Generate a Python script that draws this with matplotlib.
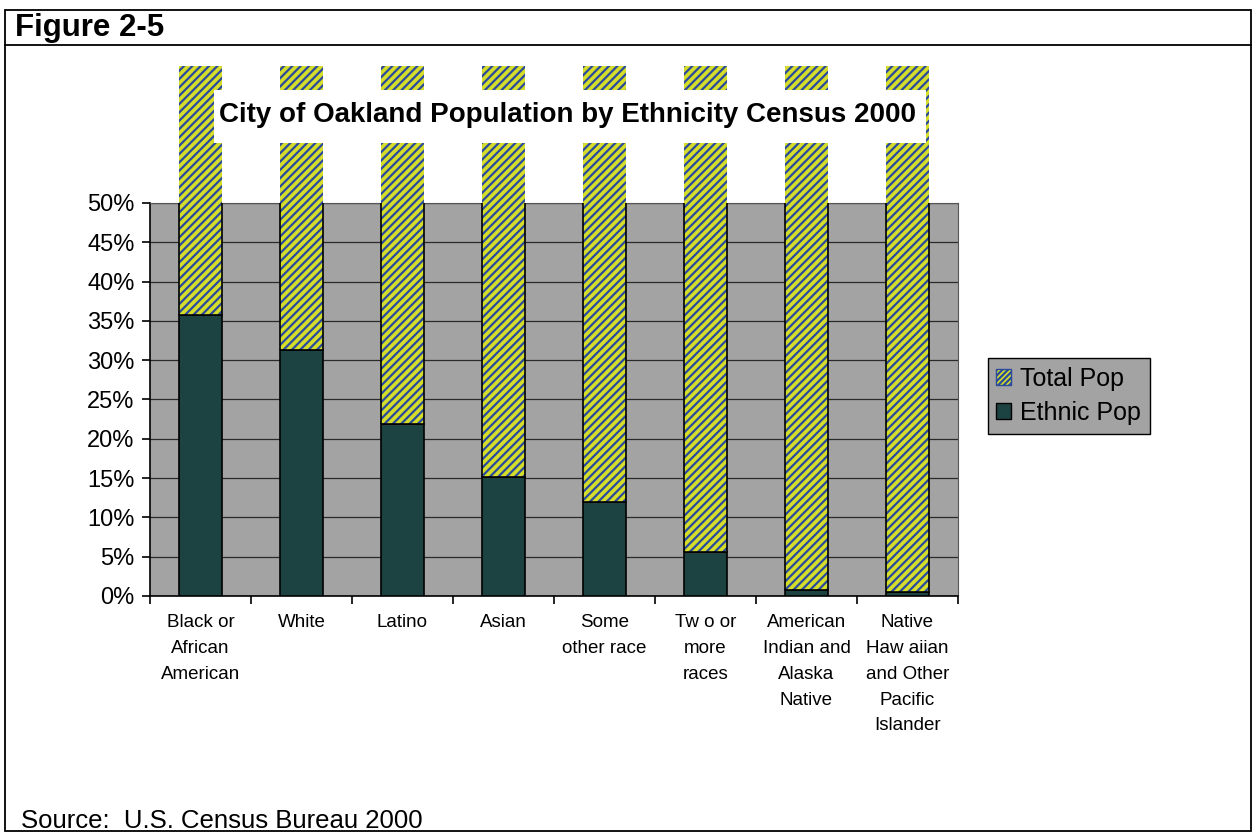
import numpy as np
import matplotlib.pyplot as plt
from matplotlib.patches import Rectangle, Patch
from matplotlib.ticker import FuncFormatter, MultipleLocator

plt.rcParams['font.family'] = ['Liberation Sans', 'DejaVu Sans']
plt.rcParams['hatch.linewidth'] = 1.6

categories = ['Black or\nAfrican\nAmerican', 'White', 'Latino', 'Asian',
              'Some\nother race', 'Tw o or\nmore\nraces',
              'American\nIndian and\nAlaska\nNative',
              'Native\nHaw aiian\nand Other\nPacific\nIslander']
ethnic_pop = [35.7, 31.3, 21.9, 15.2, 11.9, 5.6, 0.7, 0.5]
total_pop = [100.0] * 8

x = np.arange(len(categories))
rest = [t - e for t, e in zip(total_pop, ethnic_pop)]

fig = plt.figure(figsize=(12.55, 8.34), dpi=100)
ax = fig.add_axes([0.1195, 0.2854, 0.6438, 0.4712])
ax.set_facecolor('#a3a3a3')

# frame, header line and captions
fig.patches.append(Rectangle((0.004, 0.003), 0.993, 0.985, transform=fig.transFigure,
                             fill=False, edgecolor='black', linewidth=1.3))
fig.lines.append(plt.Line2D([0.004, 0.997], [0.946, 0.946], transform=fig.transFigure,
                            color='black', linewidth=1.3))
fig.text(0.012, 0.967, 'Figure 2-5', fontsize=22.5, fontweight='bold', va='center')
fig.text(0.017, 0.016, 'Source:  U.S. Census Bureau 2000', fontsize=18.5, va='center')

w = 0.42
yellow = '#d4dd2a'
stripe = '#2a4a9e'
ax.bar(x, ethnic_pop, width=w, color='#1c4242', edgecolor='black', linewidth=1.2, zorder=3)
hb = ax.bar(x, rest, width=w, bottom=ethnic_pop, color=yellow, edgecolor=stripe,
            hatch='////', linewidth=0, zorder=3)
# total bars run past the plot area up to the top of the chart area
clip = Rectangle((0, 0), 1, 0.921, transform=fig.transFigure, facecolor='none', edgecolor='none')
fig.patches.append(clip)
for b in hb:
    b.set_clip_path(clip)
ax.bar(x, rest, width=w, bottom=ethnic_pop, fill=False, edgecolor='black', linewidth=1.2, zorder=4)

ax.set_ylim(0, 50)
ax.set_xlim(-0.5, len(categories) - 0.5)
ax.yaxis.set_major_locator(MultipleLocator(5))
ax.yaxis.set_major_formatter(FuncFormatter(lambda v, p: f'{v:.0f}%'))
ax.grid(axis='y', color='#2a2a2a', linewidth=0.9, zorder=1)
ax.set_axisbelow(True)
ax.tick_params(axis='y', labelsize=17, length=6, direction='out', width=1.2, pad=5)

ax.set_xticks(x)
ax.set_xticklabels(categories, fontsize=13.5, linespacing=1.68, va='top')
ax.set_xticks(np.arange(-0.5, len(categories)), minor=True)
ax.tick_params(axis='x', which='major', length=0, pad=13)
ax.tick_params(axis='x', which='minor', length=6, width=1.2, direction='out')

for s in ['top', 'right']:
    ax.spines[s].set_color('#555555')
    ax.spines[s].set_linewidth(0.8)
for s in ['left', 'bottom']:
    ax.spines[s].set_linewidth(1.2)

# title on a white band over the bars
fig.patches.append(Rectangle((0.1705, 0.829), 0.567, 0.063, transform=fig.transFigure,
                             facecolor='white', edgecolor='none', zorder=10))
fig.text(0.4525, 0.862, 'City of Oakland Population by Ethnicity Census 2000',
         fontsize=20, fontweight='bold', ha='center', va='center', zorder=11)

handles = [Patch(facecolor=yellow, edgecolor=stripe, hatch='//////', label='Total Pop'),
           Patch(facecolor='#1c4242', edgecolor='black', label='Ethnic Pop')]
leg = fig.legend(handles=handles, loc='center left', bbox_to_anchor=(0.787, 0.525),
                 fontsize=18, frameon=True, fancybox=False, handlelength=0.6,
                 handleheight=0.6, handletextpad=0.35, borderpad=0.35, labelspacing=0.4,
                 borderaxespad=0)
leg.get_frame().set_facecolor('#a3a3a3')
leg.get_frame().set_edgecolor('black')
leg.get_frame().set_alpha(1)

fig.savefig('out.png', dpi=100)
plt.close(fig)
